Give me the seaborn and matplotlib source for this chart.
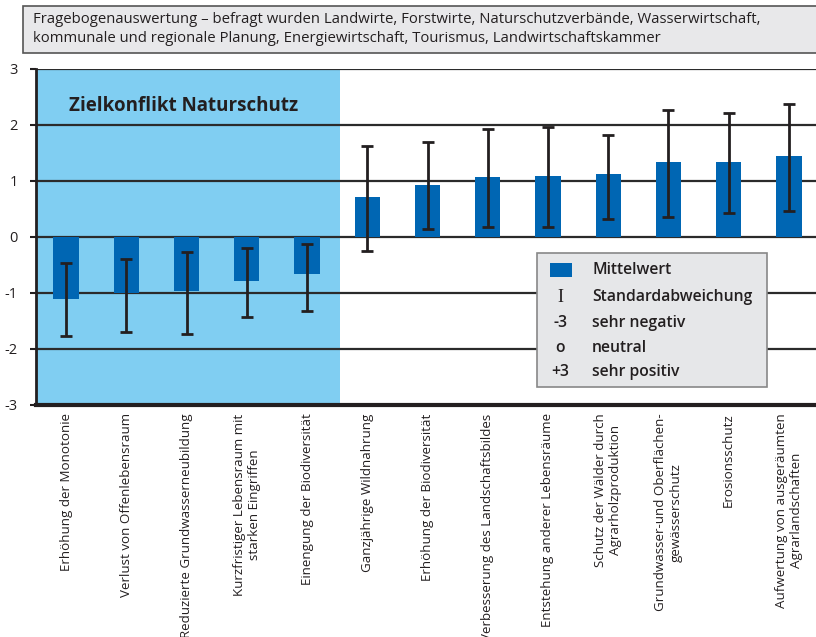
import matplotlib
matplotlib.use("Agg")
import matplotlib.pyplot as plt
from matplotlib.patches import Rectangle
import numpy as np
import pandas as pd
import seaborn as sns

# ---- data ------------------------------------------------------------------------
categories = [
    "Erhöhung der Monotonie",
    "Verlust von Offenlebensraum",
    "Reduzierte Grundwasserneubildung",
    "Kurzfristiger Lebensraum mit\nstarken Eingriffen",
    "Einengung der Biodiversität",
    "Ganzjährige Wildnahrung",
    "Erhöhung der Biodiversität",
    "Verbesserung des Landschaftsbildes",
    "Entstehung anderer Lebensräume",
    "Schutz der Wälder durch\nAgrarholzproduktion",
    "Grundwasser-und Oberflächen-\ngewässerschutz",
    "Erosionsschutz",
    "Aufwertung von ausgeräumten\nAgrarlandschaften",
]
mittelwert = [-1.11, -1.00, -0.97, -0.79, -0.66, 0.71, 0.93, 1.07, 1.09, 1.12, 1.34, 1.34, 1.45]
sd_upper = [-0.47, -0.39, -0.27, -0.20, -0.12, 1.63, 1.70, 1.92, 1.97, 1.83, 2.26, 2.22, 2.37]
sd_lower = [-1.77, -1.70, -1.73, -1.42, -1.32, -0.25, 0.15, 0.17, 0.18, 0.32, 0.35, 0.42, 0.47]
n_konflikt = 5

y_ticks = [3, 2, 1, 0, -1, -2, -3]
legend_keys = ["", "I", "-3", "o", "+3"]
legend_texts = ["Mittelwert", "Standardabweichung", "sehr negativ", "neutral", "sehr positiv"]
header = ("Fragebogenauswertung – befragt wurden Landwirte, Forstwirte, Naturschutzverbände, "
          "Wasserwirtschaft,\nkommunale und regionale Planung, Energiewirtschaft, Tourismus, "
          "Landwirtschaftskammer")

BAR = "#0066b3"
SHADE = "#80cef2"
INK = "#231f20"

sns.set_style("white")
plt.rcParams["font.family"] = ["Open Sans", "DejaVu Sans"]

W, H = 816, 637
fig = plt.figure(figsize=(W / 100, H / 100), dpi=100)


def fx(x):
    return x / W


def fy(y):
    return 1 - y / H


ax = fig.add_axes([fx(36), fy(405), fx(816) - fx(36), fy(69) - fy(405)])

df = pd.DataFrame({"kategorie": categories, "wert": mittelwert})
ax.axvspan(-0.5, n_konflikt - 0.45, color=SHADE, zorder=0, lw=0)
for t in y_ticks:
    ax.axhline(t, color="#2b2b2b", lw=1.6, zorder=1)
sns.barplot(data=df, x="kategorie", y="wert", color=BAR, width=0.42,
            saturation=1, linewidth=0, ax=ax, zorder=2)

mw = np.array(mittelwert)
err = [mw - np.array(sd_lower), np.array(sd_upper) - mw]
ax.errorbar(np.arange(len(categories)), mw, yerr=err, fmt="none", ecolor=INK,
            elinewidth=2.0, capsize=4, capthick=2.0, zorder=3)

ax.set_xlim(-0.5, 12.45)
ax.set_ylim(-3, 3)
ax.set_yticks(y_ticks)
ax.set_yticklabels([str(t) for t in y_ticks], fontsize=10.5, color=INK)
ax.set_xlabel("")
ax.set_ylabel("")
ax.set_xticks(range(len(categories)))
ax.set_xticklabels(categories, rotation=90, ha="center", va="top",
                   multialignment="center", fontsize=9.6, color=INK)
ax.tick_params(axis="y", length=4, width=1.5, color=INK, pad=9, left=True)
ax.tick_params(axis="x", length=0, pad=6)
for s in ["top", "right"]:
    ax.spines[s].set_visible(False)
ax.spines["left"].set_color(INK)
ax.spines["left"].set_linewidth(2)
ax.spines["bottom"].set_color(INK)
ax.spines["bottom"].set_linewidth(3)
ax.spines["bottom"].set_zorder(4)

ax.text(0.042, 0.89, "Zielkonflikt Naturschutz", transform=ax.transAxes,
        fontsize=13.5, fontweight="bold", color=INK, va="center", ha="left")

# ---- header box ------------------------------------------------------------------
fig.patches.append(Rectangle((fx(23), fy(53)), fx(830) - fx(23), fy(6) - fy(53),
                             transform=fig.transFigure, facecolor="#e8e8ea",
                             edgecolor="#555555", lw=1.2, zorder=0))
fig.text(fx(33), fy(29), header, fontsize=10.7, color=INK, va="center", ha="left",
         linespacing=1.3)

# ---- legend box ------------------------------------------------------------------
fig.patches.append(Rectangle((fx(537), fy(387)), fx(767) - fx(537), fy(253) - fy(387),
                             transform=fig.transFigure, facecolor="#e6e7e9",
                             edgecolor="#888888", lw=1.2, zorder=5))
rows_y = [270, 297, 323, 348, 372]
for key, label, ry in zip(legend_keys, legend_texts, rows_y):
    if key == "":
        fig.patches.append(Rectangle((fx(550), fy(ry + 7)), fx(22), 14 / H,
                                     transform=fig.transFigure, facecolor=BAR,
                                     lw=0, zorder=6))
    elif key == "I":
        fig.text(fx(560), fy(ry), key, family="Liberation Serif", fontsize=13,
                 ha="center", va="center", color=INK, zorder=6)
    else:
        fig.text(fx(560), fy(ry), key, fontsize=11.3, ha="center", va="center",
                 color=INK, zorder=6, fontweight="semibold")
    fig.text(fx(592), fy(ry), label, fontsize=11.3, ha="left", va="center",
             color=INK, zorder=6, fontweight="semibold")

fig.savefig("out.png", dpi=100)
